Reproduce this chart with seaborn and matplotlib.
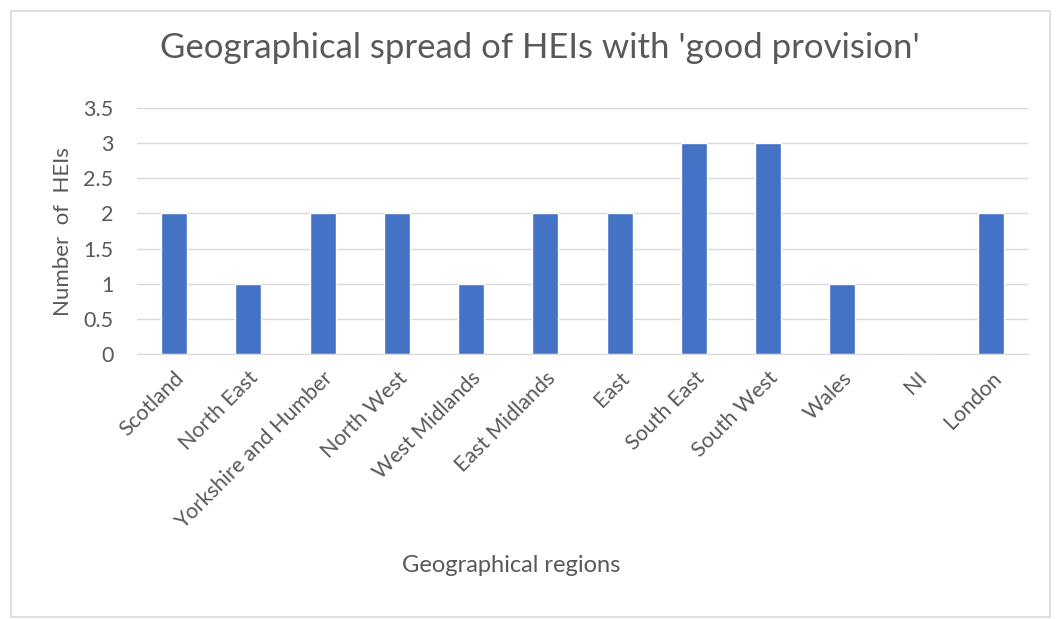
import matplotlib.pyplot as plt
from matplotlib.patches import Rectangle
import seaborn as sns
import pandas as pd

regions = ["Scotland", "North East", "Yorkshire and Humber", "North West", "West Midlands",
           "East Midlands", "East", "South East", "South West", "Wales", "NI", "London"]
hei_counts = [2, 1, 2, 2, 1, 2, 2, 3, 3, 1, 0, 2]
y_ticks = [0, 0.5, 1, 1.5, 2, 2.5, 3, 3.5]

df = pd.DataFrame({"Region": regions, "HEIs": hei_counts})

sns.set_style("white")
plt.rcParams['font.family'] = ['Lato', 'DejaVu Sans']
grey = "#595959"
line = "#D9D9D9"

fig = plt.figure(figsize=(10.56, 6.19), dpi=100)
ax = fig.add_axes([137/1056, 1 - 354/619, (1028 - 137)/1056, (354 - 108)/619])

sns.barplot(df, x="Region", y="HEIs", color="#4472C4", width=0.35, saturation=1, ax=ax)

ax.set_ylim(0, 3.5)
ax.set_xlim(-0.5, len(regions) - 0.5)
ax.set_yticks(y_ticks)
ax.set_yticklabels([f"{t:g}" for t in y_ticks])
ax.yaxis.grid(True, color=line, linewidth=1)
ax.set_axisbelow(True)
for s in ["top", "right", "left"]:
    ax.spines[s].set_visible(False)
ax.spines["bottom"].set_color(line)
ax.tick_params(axis="y", length=0, labelsize=15.5, labelcolor=grey, pad=17)

# category ticks sit on the boundaries, labels in the middle
ax.set_xticks([i - 0.5 for i in range(len(regions) + 1)], minor=False)
ax.set_xticklabels([])
ax.tick_params(axis="x", which="major", length=6, color=line, direction="out")
ax.set_xticks(range(len(regions)), minor=True)
ax.set_xticklabels(regions, minor=True, rotation=45, ha="right", rotation_mode="anchor")
ax.tick_params(axis="x", which="minor", length=0, labelsize=15.5, labelcolor=grey, pad=10)

ax.set_xlabel("")
ax.set_ylabel("")
fig.text(540/1056, 1 - 48/619, "Geographical spread of HEIs with 'good provision'",
         ha="center", va="center", fontsize=25, color=grey)
fig.text(63/1056, 1 - 232/619, "Number  of  HEIs", rotation=90,
         ha="center", va="center", fontsize=16, color=grey)
fig.text(511/1056, 1 - 565/619, "Geographical regions",
         ha="center", va="center", fontsize=17, color=grey)

fig.patches.append(Rectangle((11/1056, 2/619), 1039/1056, 606/619, transform=fig.transFigure,
                             fill=False, edgecolor=line, linewidth=1.2))

fig.savefig("out.png", dpi=100)
plt.close()
